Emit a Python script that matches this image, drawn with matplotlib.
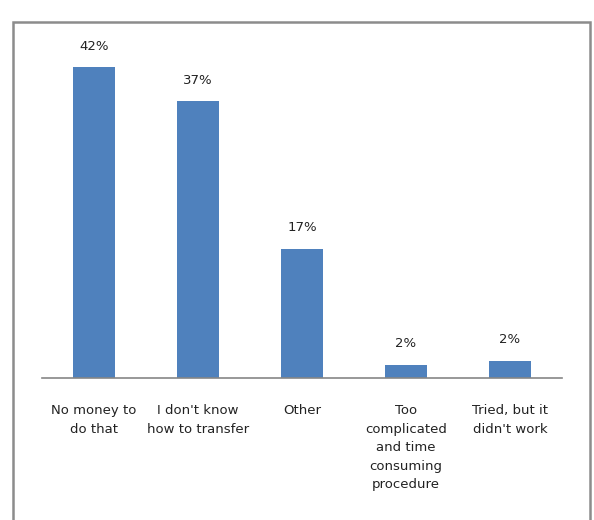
import matplotlib.pyplot as plt
import matplotlib.patches as patches

categories = ["No money to\ndo that", "I don't know\nhow to transfer", "Other",
              "Too\ncomplicated\nand time\nconsuming\nprocedure", "Tried, but it\ndidn't work"]
values = [42.0, 37.4, 17.5, 1.8, 2.3]
value_labels = ["42%", "37%", "17%", "2%", "2%"]

fig = plt.figure(figsize=(5.94, 5.2), dpi=100)
ax = fig.add_axes([0.0707, 0.273, 0.8754, 0.640])

x = range(len(categories))
bars = ax.bar(x, values, width=0.41, color="#4F81BD")
for b, lab in zip(bars, value_labels):
    ax.text(b.get_x() + b.get_width() / 2, b.get_height() + 2.0, lab,
            ha="center", va="bottom", fontsize=9.5, color="#222222")

ax.set_xlim(-0.5, len(categories) - 0.5)
ax.set_ylim(0, 45)
ax.set_yticks([])
ax.set_xticks(list(x))
ax.set_xticklabels(categories, fontsize=9.5, linespacing=1.55, va="top", color="#222222")
ax.tick_params(axis="x", length=0, pad=19)
for s in ["top", "left", "right"]:
    ax.spines[s].set_visible(False)
ax.spines["bottom"].set_color("#868686")
ax.spines["bottom"].set_linewidth(1.2)

# outer frame around the chart area
frame = patches.Rectangle((13 / 594, -0.02), 577 / 594, 1.02 - 22 / 520,
                          transform=fig.transFigure, fill=False,
                          edgecolor="#8c8c8c", linewidth=1.8, clip_on=False)
fig.patches.append(frame)

fig.savefig("out.png", dpi=100)
